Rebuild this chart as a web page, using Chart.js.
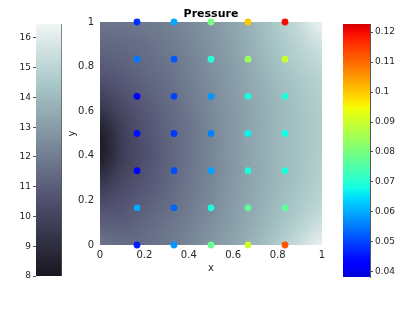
<!DOCTYPE html>
<html><head><meta charset="utf-8">
<script src="https://cdn.jsdelivr.net/npm/chart.js@4/dist/chart.umd.min.js"></script>
<style>
html,body{margin:0;padding:0;background:#fff;width:399px;height:311px;overflow:hidden;}
canvas{position:absolute;top:0;}
#cbL{left:0;}
#main{left:64px;}
#cbR{left:335px;}
</style></head><body>
<canvas id="cbL" width="64" height="311"></canvas>
<canvas id="main" width="271" height="311"></canvas>
<canvas id="cbR" width="64" height="311"></canvas>
<script>
// ---------- data ----------
const chartTitle = 'Pressure';
const xTicks = [0, 0.2, 0.4, 0.6, 0.8, 1];
const yTicks = [0, 0.2, 0.4, 0.6, 0.8, 1];
const pointX = [0.1667, 0.3333, 0.5, 0.6667, 0.8333];
const pointY = [0, 0.1667, 0.3333, 0.5, 0.6667, 0.8333, 1];
// pressure at the points, one array per row (y = 0 ... 1)
const pRow0 = [0.046, 0.058, 0.078, 0.090, 0.112];
const pRow1 = [0.060, 0.053, 0.068, 0.077, 0.077];
const pRow2 = [0.042, 0.051, 0.059, 0.069, 0.069];
const pRow3 = [0.045, 0.049, 0.056, 0.067, 0.068];
const pRow4 = [0.042, 0.050, 0.058, 0.069, 0.069];
const pRow5 = [0.055, 0.052, 0.070, 0.084, 0.090];
const pRow6 = [0.048, 0.060, 0.080, 0.100, 0.120];
const pressureRows = [pRow0, pRow1, pRow2, pRow3, pRow4, pRow5, pRow6];

// background field sampled on a grid (rows y = 0 ... 1, columns x = 0 ... 1)
const fieldX = [0, 0.1, 0.2, 0.3, 0.4, 0.5, 0.6, 0.7, 0.8, 0.9, 1];
const fieldY = [0, 0.1, 0.2, 0.3, 0.4, 0.5, 0.6, 0.7, 0.8, 0.9, 1];
const fY00 = [11.8, 11.5, 11.6, 11.9, 12.3, 12.8, 13.3, 13.9, 14.6, 15.4, 16.3];
const fY01 = [11.0, 11.0, 11.3, 11.7, 12.1, 12.6, 13.1, 13.6, 14.2, 14.8, 15.5];
const fY02 = [10.3, 10.6, 11.0, 11.4, 11.9, 12.4, 13.0, 13.5, 14.0, 14.5, 15.0];
const fY03 = [9.2, 10.1, 10.7, 11.2, 11.8, 12.3, 12.9, 13.4, 13.9, 14.3, 14.8];
const fY04 = [8.2, 9.7, 10.5, 11.1, 11.7, 12.3, 12.9, 13.4, 13.9, 14.3, 14.7];
const fY05 = [8.3, 9.8, 10.6, 11.2, 11.7, 12.3, 12.9, 13.4, 13.9, 14.3, 14.7];
const fY06 = [9.3, 10.2, 10.8, 11.3, 11.8, 12.4, 12.9, 13.4, 13.9, 14.3, 14.7];
const fY07 = [10.2, 10.7, 11.1, 11.5, 12.0, 12.5, 13.0, 13.5, 14.0, 14.4, 14.8];
const fY08 = [10.9, 11.1, 11.4, 11.7, 12.1, 12.6, 13.1, 13.6, 14.2, 14.7, 15.1];
const fY09 = [11.3, 11.4, 11.6, 11.9, 12.3, 12.7, 13.2, 13.8, 14.4, 15.0, 15.6];
const fY10 = [11.8, 11.8, 11.9, 12.1, 12.4, 12.8, 13.3, 13.9, 14.6, 15.4, 16.4];
const fieldRows = [fY00, fY01, fY02, fY03, fY04, fY05, fY06, fY07, fY08, fY09, fY10];

const leftBarRange = [8, 16.47];
const leftBarTicks = [8, 9, 10, 11, 12, 13, 14, 15, 16];
const rightBarRange = [0.0383, 0.1227];
const rightBarTicks = [0.04, 0.05, 0.06, 0.07, 0.08, 0.09, 0.1, 0.11, 0.12];

// colour-map limits
const boneLimits = [7.0, 16.9];
const jetLimits = [0.031, 0.13];

// ---------- colour maps ----------
function seg(points, t) {
  t = Math.max(0, Math.min(1, t));
  for (let i = 1; i < points.length; i++) {
    if (t <= points[i][0]) {
      const [x0, y0] = points[i - 1], [x1, y1] = points[i];
      return y0 + (y1 - y0) * (t - x0) / (x1 - x0);
    }
  }
  return points[points.length - 1][1];
}
const boneR = [[0, 0], [0.746032, 0.652778], [1, 1]];
const boneG = [[0, 0], [0.365079, 0.319444], [0.746032, 0.777778], [1, 1]];
const boneB = [[0, 0], [0.365079, 0.444444], [1, 1]];
const jetR = [[0, 0], [0.35, 0], [0.66, 1], [0.89, 1], [1, 0.5]];
const jetG = [[0, 0], [0.125, 0], [0.375, 1], [0.64, 1], [0.91, 0], [1, 0]];
const jetB = [[0, 0.5], [0.11, 1], [0.34, 1], [0.65, 0], [1, 0]];
function boneRGB(v) {
  const t = (v - boneLimits[0]) / (boneLimits[1] - boneLimits[0]);
  return [seg(boneR, t), seg(boneG, t), seg(boneB, t)].map(c => Math.round(c * 255));
}
function jetRGB(v) {
  const t = (v - jetLimits[0]) / (jetLimits[1] - jetLimits[0]);
  return [seg(jetR, t), seg(jetG, t), seg(jetB, t)].map(c => Math.round(c * 255));
}
const css = c => `rgb(${c[0]},${c[1]},${c[2]})`;
const bone = v => css(boneRGB(v));
const jet = v => css(jetRGB(v));

Chart.defaults.font.family = '"DejaVu Sans", sans-serif';
Chart.defaults.color = '#262626';
const fmt = v => String(Math.round(v * 1000) / 1000);

// ---------- colour bars ----------
function colorbar(id, range, ticks, cmap, side) {
  const left = side === 'left';
  new Chart(document.getElementById(id), {
    type: 'bar',
    data: {
      labels: [''],
      datasets: [{
        data: [[range[0], range[1]]],
        backgroundColor: (c) => {
          const ch = c.chart, a = ch.chartArea;
          if (!a) return '#888';
          const g = ch.ctx.createLinearGradient(0, a.bottom, 0, a.top);
          const n = 60;
          for (let i = 0; i <= n; i++) g.addColorStop(i / n, cmap(range[0] + (range[1] - range[0]) * i / n));
          return g;
        },
        borderColor: '#555',
        borderWidth: left ? {left: 0, right: 1, top: 0, bottom: 0} : 0,
        borderSkipped: false,
        barPercentage: 1, categoryPercentage: 1
      }]
    },
    options: {
      responsive: false, animation: false, events: [],
      plugins: {legend: {display: false}, tooltip: {enabled: false}},
      layout: {padding: left ? {left: 0, right: 2, top: 24, bottom: 35} : {left: 8, right: 0, top: 24, bottom: 34}},
      scales: {
        x: {display: false},
        y: {
          position: side, min: range[0], max: range[1],
          afterBuildTicks: s => { s.ticks = ticks.map(v => ({value: v})); },
          afterFit: s => { s.width = left ? 36 : 29; },
          grid: {drawOnChartArea: false, tickLength: 3, color: '#555'},
          border: {display: !left, color: '#555'},
          ticks: {padding: 2, font: {size: 9}, callback: v => fmt(v)}
        }
      }
    }
  });
}
colorbar('cbL', leftBarRange, leftBarTicks, bone, 'left');
colorbar('cbR', rightBarRange, rightBarTicks, jet, 'right');

// ---------- main chart ----------
const fieldPlugin = {
  id: 'field',
  beforeDatasetsDraw(chart) {
    const {ctx, chartArea: a, scales: {x, y}} = chart;
    const nx = fieldX.length, ny = fieldY.length;
    const off = document.createElement('canvas');
    off.width = nx; off.height = ny;
    const octx = off.getContext('2d');
    const img = octx.createImageData(nx, ny);
    for (let j = 0; j < ny; j++) {
      const row = fieldRows[ny - 1 - j];
      for (let i = 0; i < nx; i++) {
        const c = boneRGB(row[i]);
        const k = (j * nx + i) * 4;
        img.data[k] = c[0]; img.data[k + 1] = c[1]; img.data[k + 2] = c[2]; img.data[k + 3] = 255;
      }
    }
    octx.putImageData(img, 0, 0);
    const dx = (fieldX[1] - fieldX[0]) / 2, dy = (fieldY[1] - fieldY[0]) / 2;
    const x0 = x.getPixelForValue(fieldX[0] - dx), x1 = x.getPixelForValue(fieldX[nx - 1] + dx);
    const y0 = y.getPixelForValue(fieldY[ny - 1] + dy), y1 = y.getPixelForValue(fieldY[0] - dy);
    ctx.save();
    ctx.beginPath(); ctx.rect(a.left, a.top, a.right - a.left, a.bottom - a.top); ctx.clip();
    ctx.imageSmoothingEnabled = true; ctx.imageSmoothingQuality = 'high';
    ctx.drawImage(off, x0, y0, x1 - x0, y1 - y0);
    ctx.restore();
  }
};
const titlePlugin = {
  id: 'ctitle',
  afterDraw(chart) {
    const {ctx, chartArea: a} = chart;
    ctx.save();
    ctx.font = 'bold 11px "DejaVu Sans"';
    ctx.fillStyle = '#000';
    ctx.textAlign = 'center'; ctx.textBaseline = 'middle';
    ctx.fillText(chartTitle, (a.left + a.right) / 2, 14);
    ctx.restore();
  }
};

const pts = [], cols = [];
pointY.forEach((yv, r) => pointX.forEach((xv, c) => {
  pts.push({x: xv, y: yv});
  cols.push(jet(pressureRows[r][c]));
}));

new Chart(document.getElementById('main'), {
  type: 'scatter',
  data: {datasets: [{data: pts, pointBackgroundColor: cols, pointBorderWidth: 0, pointRadius: 3.4, clip: false}]},
  options: {
    responsive: false, animation: false, events: [],
    plugins: {legend: {display: false}, tooltip: {enabled: false}},
    layout: {padding: {left: 0, right: 13, top: 22, bottom: 0}},
    scales: {
      x: {
        type: 'linear', min: 0, max: 1,
        afterBuildTicks: s => { s.ticks = xTicks.map(v => ({value: v})); },
        afterFit: s => { s.height = 66; },
        grid: {display: false, drawTicks: false}, border: {display: false},
        ticks: {padding: 4, font: {size: 10}, callback: v => fmt(v), maxRotation: 0},
        title: {display: true, text: 'x', font: {size: 10}, padding: {top: 0, bottom: 37}}
      },
      y: {
        type: 'linear', min: 0, max: 1,
        afterBuildTicks: s => { s.ticks = yTicks.map(v => ({value: v})); },
        afterFit: s => { s.width = 36; },
        grid: {display: false, drawTicks: false}, border: {display: false},
        ticks: {padding: 6, font: {size: 10}, callback: v => fmt(v)},
        title: {display: true, text: 'y', font: {size: 10}, padding: {top: 2, bottom: 0}}
      }
    }
  },
  plugins: [fieldPlugin, titlePlugin]
});
</script>
</body></html>
